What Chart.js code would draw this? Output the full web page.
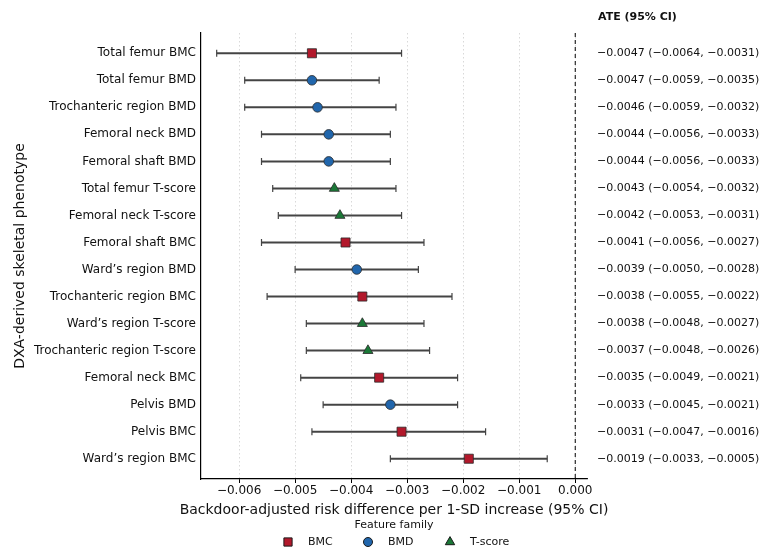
<!DOCTYPE html>
<html><head><meta charset="utf-8">
<script src="https://cdn.jsdelivr.net/npm/chart.js@4.4.0/dist/chart.umd.min.js"></script>
<style>html,body{margin:0;padding:0;background:#fff}#wrap{width:769px;height:549px}</style>
</head><body><div id="wrap"><canvas id="c" width="769" height="549"></canvas></div>
<script>
const phenotypes = ["Total femur BMC","Total femur BMD","Trochanteric region BMD","Femoral neck BMD","Femoral shaft BMD","Total femur T-score","Femoral neck T-score","Femoral shaft BMC","Ward\u2019s region BMD","Trochanteric region BMC","Ward\u2019s region T-score","Trochanteric region T-score","Femoral neck BMC","Pelvis BMD","Pelvis BMC","Ward\u2019s region BMC"];
const families = ["BMC","BMD","BMD","BMD","BMD","T-score","T-score","BMC","BMD","BMC","T-score","T-score","BMC","BMD","BMC","BMC"];
const ate = [-0.0047,-0.0047,-0.0046,-0.0044,-0.0044,-0.0043,-0.0042,-0.0041,-0.0039,-0.0038,-0.0038,-0.0037,-0.0035,-0.0033,-0.0031,-0.0019];
const ciLow = [-0.0064,-0.0059,-0.0059,-0.0056,-0.0056,-0.0054,-0.0053,-0.0056,-0.0050,-0.0055,-0.0048,-0.0048,-0.0049,-0.0045,-0.0047,-0.0033];
const ciHigh = [-0.0031,-0.0035,-0.0032,-0.0033,-0.0033,-0.0032,-0.0031,-0.0027,-0.0028,-0.0022,-0.0027,-0.0026,-0.0021,-0.0021,-0.0016,-0.0005];
const xTicks = [-0.006,-0.005,-0.004,-0.003,-0.002,-0.001,0];
const familyNames = ["BMC","BMD","T-score"];
const familyColors = {"BMC":"#b2182b","BMD":"#2166ac","T-score":"#1b7837"};
const familyShapes = {"BMC":"rect","BMD":"circle","T-score":"triangle"};
const familyRadius = {"BMC":6.4,"BMD":4.8,"T-score":5.8};
const xTitle = 'Backdoor-adjusted risk difference per 1-SD increase (95% CI)';

const FONT = "'DejaVu Sans', sans-serif";
const fmt = v => v.toFixed(4).replace('-', '\u2212');

const datasets = familyNames.map(f => ({
  label: f,
  data: phenotypes.map((p,i)=>({x: ate[i], y: i, fam: families[i]})).filter(d=>d.fam===f),
  backgroundColor: familyColors[f],
  borderColor: '#2a2a2a',
  borderWidth: 0.8,
  pointStyle: familyShapes[f],
  pointRadius: familyRadius[f],
  pointHoverRadius: familyRadius[f]
}));

const forestPlugin = {
  id: 'forest',
  beforeDatasetsDraw(chart){
    const {ctx, scales:{x,y}, chartArea} = chart;
    ctx.save();
    const x0 = x.getPixelForValue(0);
    ctx.strokeStyle = '#000'; ctx.lineWidth = 1; ctx.setLineDash([4,3]);
    ctx.beginPath(); ctx.moveTo(x0, chartArea.top); ctx.lineTo(x0, chartArea.bottom); ctx.stroke();
    ctx.setLineDash([]);
    phenotypes.forEach((p,i)=>{
      const yy = y.getPixelForValue(i);
      const xl = x.getPixelForValue(ciLow[i]), xh = x.getPixelForValue(ciHigh[i]);
      ctx.strokeStyle = '#444'; ctx.lineWidth = 2;
      ctx.beginPath(); ctx.moveTo(xl, yy); ctx.lineTo(xh, yy); ctx.stroke();
      ctx.lineWidth = 1.2;
      ctx.beginPath(); ctx.moveTo(xl, yy-3.5); ctx.lineTo(xl, yy+3.5); ctx.moveTo(xh, yy-3.5); ctx.lineTo(xh, yy+3.5); ctx.stroke();
    });
    ctx.restore();
  },
  afterDraw(chart){
    const {ctx, scales:{y}, chartArea} = chart;
    ctx.save();
    const tx = chartArea.right + 10;
    const cx = (chartArea.left + chartArea.right) / 2;
    ctx.fillStyle = '#111'; ctx.textBaseline = 'middle';
    // x axis title
    ctx.textAlign = 'center';
    ctx.font = "14px " + FONT;
    ctx.fillText(xTitle, cx, 510);
    ctx.textAlign = 'left';
    ctx.font = "bold 11px " + FONT;
    ctx.fillText("ATE (95% CI)", tx + 1, 17);
    ctx.font = "11px " + FONT;
    phenotypes.forEach((p,i)=>{
      ctx.fillText(fmt(ate[i]) + " (" + fmt(ciLow[i]) + ", " + fmt(ciHigh[i]) + ")", tx, y.getPixelForValue(i));
    });
    // legend
    ctx.textAlign = 'center';
    ctx.fillText("Feature family", cx, 525);
    const itemX = [cx - 106, cx - 26, cx + 56];
    ctx.textAlign = 'left';
    familyNames.forEach((f,k)=>{
      const ly = 542;
      ctx.fillStyle = familyColors[f]; ctx.strokeStyle = '#1a1a1a'; ctx.lineWidth = 1;
      Chart.helpers.drawPoint(ctx, {pointStyle: familyShapes[f], radius: f==='BMC'?5.8:(f==='BMD'?4.5:5.4), rotation: 0, borderWidth: 1}, itemX[k], ly);
      ctx.fillStyle = '#111';
      ctx.fillText(f, itemX[k] + 20, ly);
    });
    ctx.restore();
  }
};

new Chart(document.getElementById('c'), {
  type: 'scatter',
  data: { datasets },
  options: {
    responsive: false,
    animation: false,
    layout: { padding: { left: 0, right: 182, top: 33, bottom: 31 } },
    plugins: {
      tooltip: { enabled: false },
      legend: { display: false }
    },
    scales: {
      x: {
        type: 'linear',
        min: -0.00668, max: 0.00021,
        afterBuildTicks: s => { s.ticks = xTicks.map(v=>({value:v})); },
        afterFit: s => { s.height = 39; },
        ticks: { color: '#111', font: { family: FONT, size: 12 }, padding: 1, maxRotation: 0,
          callback: v => (v === 0 ? '0.000' : v.toFixed(3).replace('-', '\u2212')) },
        grid: { color: '#cfcfcf', lineWidth: 0.8, tickColor: '#000', tickLength: 4, tickWidth: 1 },
        border: { display: true, color: '#000', width: 1.2, dash: [1.5, 2.5] },
        title: { display: false }
      },
      y: {
        type: 'linear',
        reverse: true,
        min: -0.75, max: 15.75,
        afterBuildTicks: s => { s.ticks = phenotypes.map((p,i)=>({value:i})); },
        afterFit: s => { s.width = 201; },
        ticks: { color: '#111', font: { family: FONT, size: 12 }, padding: 5, autoSkip: false,
          callback: v => phenotypes[v] },
        grid: { display: true, drawOnChartArea: false, drawTicks: false },
        border: { display: true, color: '#000', width: 1.2 },
        title: { display: true, text: 'DXA-derived skeletal phenotype', color: '#111', font: { family: FONT, size: 14 }, padding: { top: 12, bottom: 4 } }
      }
    }
  },
  plugins: [forestPlugin]
});
</script></body></html>
